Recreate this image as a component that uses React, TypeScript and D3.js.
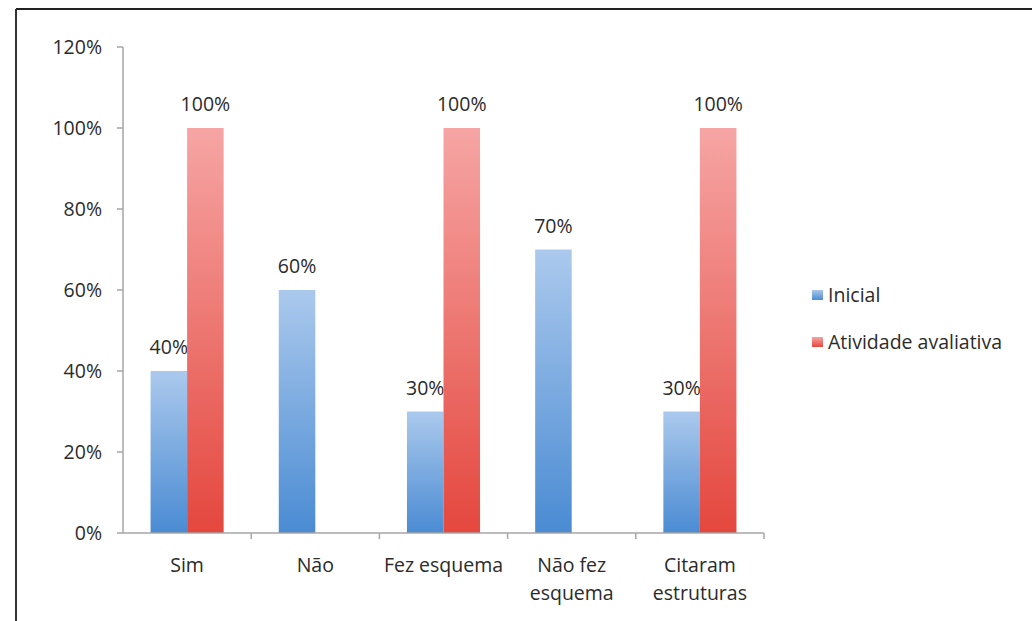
import React from "react";
import * as d3 from "d3";

const categories: string[][] = [
  ["Sim"],
  ["Não"],
  ["Fez esquema"],
  ["Não fez", "esquema"],
  ["Citaram", "estruturas"],
];
const inicial: (number | null)[] = [40, 60, 30, 70, 30];
const avaliativa: (number | null)[] = [100, null, 100, null, 100];
const seriesNames = ["Inicial", "Atividade avaliativa"];
const yTicks = [0, 20, 40, 60, 80, 100, 120];

const W = 1032;
const H = 621;
const FONT = "'Open Sans', Lato, sans-serif";
const FS = 19.5;
const TEXT = "#2b2b2b";
const AXIS = "#a6a6a6";

export default function App() {
  const x0 = d3
    .scaleBand<number>()
    .domain(categories.map((_, i) => i))
    .range([123, 764]);
  const barW = x0.bandwidth() * 0.285;
  const y = d3.scaleLinear().domain([0, 120]).range([533, 47]);

  const series = [inicial, avaliativa];
  const gradIds = ["gBlue", "gRed"];

  return (
    <svg
      width={W}
      height={H}
      style={{ position: "absolute", left: 0, top: 0, background: "#fff" }}
      fontFamily={FONT}
    >
      <defs>
        <linearGradient id="gBlue" x1="0" y1="0" x2="0" y2="1">
          <stop offset="0" stopColor="#abc9ed" />
          <stop offset="1" stopColor="#4a8bd3" />
        </linearGradient>
        <linearGradient id="gRed" x1="0" y1="0" x2="0" y2="1">
          <stop offset="0" stopColor="#f6a5a4" />
          <stop offset="1" stopColor="#e4473e" />
        </linearGradient>
      </defs>

      {/* frame */}
      <line x1={16} y1={9} x2={W} y2={9} stroke="#222" strokeWidth={2} />
      <line x1={16} y1={9} x2={16} y2={H} stroke="#333" strokeWidth={2} />

      {/* y axis */}
      <line x1={123} y1={y(120)} x2={123} y2={y(0)} stroke={AXIS} strokeWidth={1.5} />
      {yTicks.map((t) => (
        <g key={t}>
          <line x1={117} x2={123} y1={y(t)} y2={y(t)} stroke={AXIS} strokeWidth={1.5} />
          <text
            x={102}
            y={y(t)}
            dy="0.38em"
            textAnchor="end"
            fontSize={FS}
            fill={TEXT}
          >
            {t}%
          </text>
        </g>
      ))}

      {/* bars */}
      {series.map((vals, s) =>
        vals.map((v, i) => {
          if (v === null) return null;
          const cx = (x0(i) as number) + x0.bandwidth() / 2;
          const bx = cx - barW + s * barW;
          return (
            <g key={`${s}-${i}`}>
              <rect
                x={bx}
                y={y(v)}
                width={barW}
                height={y(0) - y(v)}
                fill={`url(#${gradIds[s]})`}
              />
              <text
                x={bx + barW / 2}
                y={y(v) - 17}
                textAnchor="middle"
                fontSize={FS}
                fill={TEXT}
              >
                {v}%
              </text>
            </g>
          );
        })
      )}

      {/* x axis */}
      <line x1={123} x2={764} y1={y(0)} y2={y(0)} stroke={AXIS} strokeWidth={1.5} />
      {categories.map((_, i) => (
        <line
          key={i}
          x1={(x0(i) as number) + x0.bandwidth()}
          x2={(x0(i) as number) + x0.bandwidth()}
          y1={y(0)}
          y2={y(0) + 6}
          stroke={AXIS}
          strokeWidth={1.5}
        />
      ))}
      {categories.map((lines, i) => (
        <text
          key={i}
          x={(x0(i) as number) + x0.bandwidth() / 2}
          y={572}
          textAnchor="middle"
          fontSize={FS}
          fill={TEXT}
        >
          {lines.map((l, k) => (
            <tspan key={k} x={(x0(i) as number) + x0.bandwidth() / 2} dy={k === 0 ? 0 : 28}>
              {l}
            </tspan>
          ))}
        </text>
      ))}

      {/* legend */}
      {seriesNames.map((name, s) => (
        <g key={name} transform={`translate(812, ${295 + s * 47})`}>
          <rect x={0} y={-5} width={11} height={10} fill={`url(#${gradIds[s]})`} />
          <text x={16} y={0} dy="0.36em" fontSize={FS} fill={TEXT}>
            {name}
          </text>
        </g>
      ))}
    </svg>
  );
}
